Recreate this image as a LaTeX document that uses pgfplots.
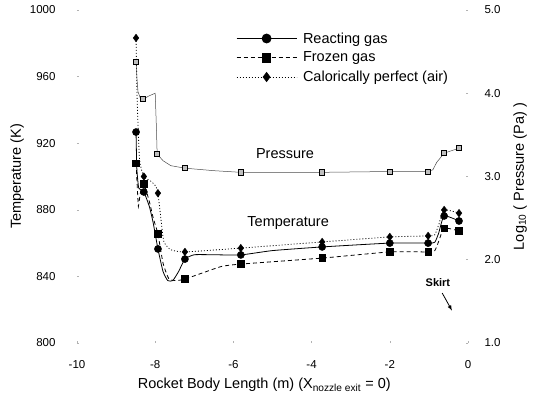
\documentclass[border=0pt]{standalone}
\usepackage{pgfplots}
\pgfplotsset{compat=1.18}
\usepackage{fontspec}
\setmainfont{Liberation Sans}
\begin{document}
\begin{tikzpicture}
\pgfplotsset{
  common/.style={
    scale only axis, width=391pt, height=333pt,
    at={(0,0)}, anchor=south west,
    xmin=-10, xmax=0,
    axis line style={draw=none},
    tick style={black!30, line width=0.5pt},
    major tick length=2pt,
    tick align=inside,
    /pgf/number format/assume math mode=true,
    /pgf/number format/1000 sep={},
    tick label style={font=\fontsize{11.5}{13}\selectfont},
    label style={font=\fontsize{14.5}{17}\selectfont},
  }
}
\begin{axis}[common,
  ymin=800, ymax=1000,
  axis x line*=bottom, axis y line*=left,
  xtick={-10,-8,-6,-4,-2,0},
  ytick={800,840,880,920,960,1000},
  yticklabel style={xshift=-18pt},
  xticklabel style={yshift=-14pt},
  xlabel={Rocket Body Length (m) (X\textsubscript{nozzle exit} = 0)},
  xlabel style={at={(axis description cs:0.479,-0.126)}, anchor=center},
  ylabel={Temperature (K)},
  ylabel style={at={(axis description cs:-0.153,0.5)}, anchor=center},
  legend style={at={(axis description cs:0.399,0.942)}, anchor=north west,
    draw=none, fill=none, font=\fontsize{14.5}{17}\selectfont,
    row sep=5.5pt, nodes={inner sep=1pt},
    /tikz/every odd column/.append style={column sep=5pt}},
  legend cell align=left,
  legend image code/.code={\draw[#1, mark indices={2}] plot coordinates {(0pt,0pt) (30pt,0pt) (60pt,0pt)};},
]
\addlegendimage{black, line width=0.8pt, solid, mark=*, mark size=4.5pt, mark options={solid}}
\addlegendimage{black, line width=0.8pt, dash pattern=on 4pt off 3pt, mark=square*, mark size=4.2pt, mark options={solid}}
\addlegendimage{black, line width=0.8pt, dash pattern=on 1pt off 2pt, mark=diamond*, mark size=4.5pt, mark options={solid}}
\legend{Reacting  gas, Frozen gas, Calorically perfect (air)}

% Reacting gas line
\addplot[black, line width=0.8pt, smooth, tension=0.3, forget plot] coordinates {
(-8.49,926.7) (-8.47,905) (-8.42,893) (-8.29,890.7) (-8.15,882) (-8.05,872)
(-7.93,856.5) (-7.8,843) (-7.68,837.5) (-7.55,837.5) (-7.4,843) (-7.24,850.4)
(-7.0,853) (-6.5,853) (-5.81,852.9) (-5.0,855.5) (-3.73,857.7) (-2.0,860)
(-1.02,860) (-0.85,860.5) (-0.75,866) (-0.61,876.3) (-0.23,873.3)};
\addplot[black, only marks, mark=*, mark size=3.6pt, forget plot] coordinates {
(-8.49,926.7) (-8.29,890.7) (-7.93,856.5) (-7.24,850.4) (-5.81,852.9)
(-3.73,857.7) (-2.0,860) (-1.02,860) (-0.61,876.3) (-0.23,873.3)};

% Frozen gas line
\addplot[black, line width=0.8pt, dash pattern=on 4pt off 3pt, smooth, tension=0.3, forget plot] coordinates {
(-8.49,908) (-8.45,890) (-8.43,882) (-8.38,890) (-8.29,895.5) (-8.15,885)
(-8.05,875) (-7.93,865.5) (-7.8,848) (-7.65,838.5) (-7.45,837.5) (-7.24,838.4)
(-6.8,842) (-6.3,846) (-5.81,847.4) (-3.73,851) (-2.0,854.7) (-1.02,854.7)
(-0.85,855.5) (-0.75,861) (-0.61,869) (-0.23,867.3)};
\addplot[black, only marks, mark=square*, mark size=3.4pt, forget plot] coordinates {
(-8.49,908) (-8.29,895.5) (-7.93,865.5) (-7.24,838.4) (-5.81,847.4)
(-3.73,851) (-2.0,854.7) (-1.02,854.7) (-0.61,869) (-0.23,867.3)};

% Calorically perfect line
\addplot[black, line width=0.8pt, dash pattern=on 1pt off 2pt, smooth, tension=0.3, forget plot] coordinates {
(-8.49,983.2) (-8.46,945) (-8.4,910) (-8.29,900) (-8.1,897) (-7.98,894)
(-7.93,890) (-7.86,876) (-7.78,861) (-7.6,856) (-7.24,854.7) (-5.81,857)
(-3.73,860.7) (-2.0,863.7) (-1.02,864.3) (-0.85,865) (-0.75,871) (-0.61,879.9) (-0.23,878)};
\addplot[black, only marks, mark=diamond*, mark size=3.8pt, forget plot] coordinates {
(-8.49,983.2) (-8.29,900) (-7.93,890) (-7.24,854.7) (-5.81,857)
(-3.73,860.7) (-2.0,863.7) (-1.02,864.3) (-0.61,879.9) (-0.23,878)};

\node[font=\fontsize{14.5}{17}\selectfont] at (axis cs:-4.68,913.5) {Pressure};
\node[font=\fontsize{14.5}{17}\selectfont] at (axis cs:-4.6,872) {Temperature};
\node[font=\fontsize{11}{13}\selectfont\bfseries] at (axis cs:-0.77,836) {Skirt};
\draw[-latex, line width=0.8pt] (axis cs:-0.66,830) -- (axis cs:-0.41,819.5);
\end{axis}

\begin{axis}[common,
  ymin=1, ymax=5,
  axis y line*=right, axis x line=none,
  ytick={1,2,3,4,5},
  yticklabel style={xshift=13pt, /pgf/number format/.cd, fixed, fixed zerofill, precision=1},
  ylabel={Log\textsubscript{10} ( Pressure (Pa) )},
  ylabel style={at={(axis description cs:1.133,0.5)}, anchor=center, rotate=0},
]
\addplot[black!70, line width=0.5pt, forget plot] coordinates {
(-8.49,4.38) (-8.47,4.2) (-8.44,4.02) (-8.38,3.94) (-8.31,3.93) (-8.15,3.97)
(-8.0,4.0) (-7.97,3.6) (-7.95,3.27) (-7.8,3.19) (-7.6,3.13) (-7.24,3.10)
(-6.5,3.07) (-5.81,3.05) (-3.73,3.05) (-2.0,3.06) (-1.02,3.06) (-0.9,3.08)
(-0.8,3.17) (-0.61,3.28) (-0.23,3.34)};
\addplot[black, only marks, mark=square*, mark size=2.6pt, mark options={fill=black!25, line width=0.7pt}, forget plot] coordinates {
(-8.49,4.38) (-8.31,3.93) (-7.95,3.27) (-7.24,3.10) (-5.81,3.05)
(-3.73,3.05) (-2.0,3.06) (-1.02,3.06) (-0.61,3.28) (-0.23,3.34)};
\end{axis}
\pgfresetboundingbox
\path (-77pt,-56pt) rectangle (456pt,343pt);
\end{tikzpicture}
\end{document}
